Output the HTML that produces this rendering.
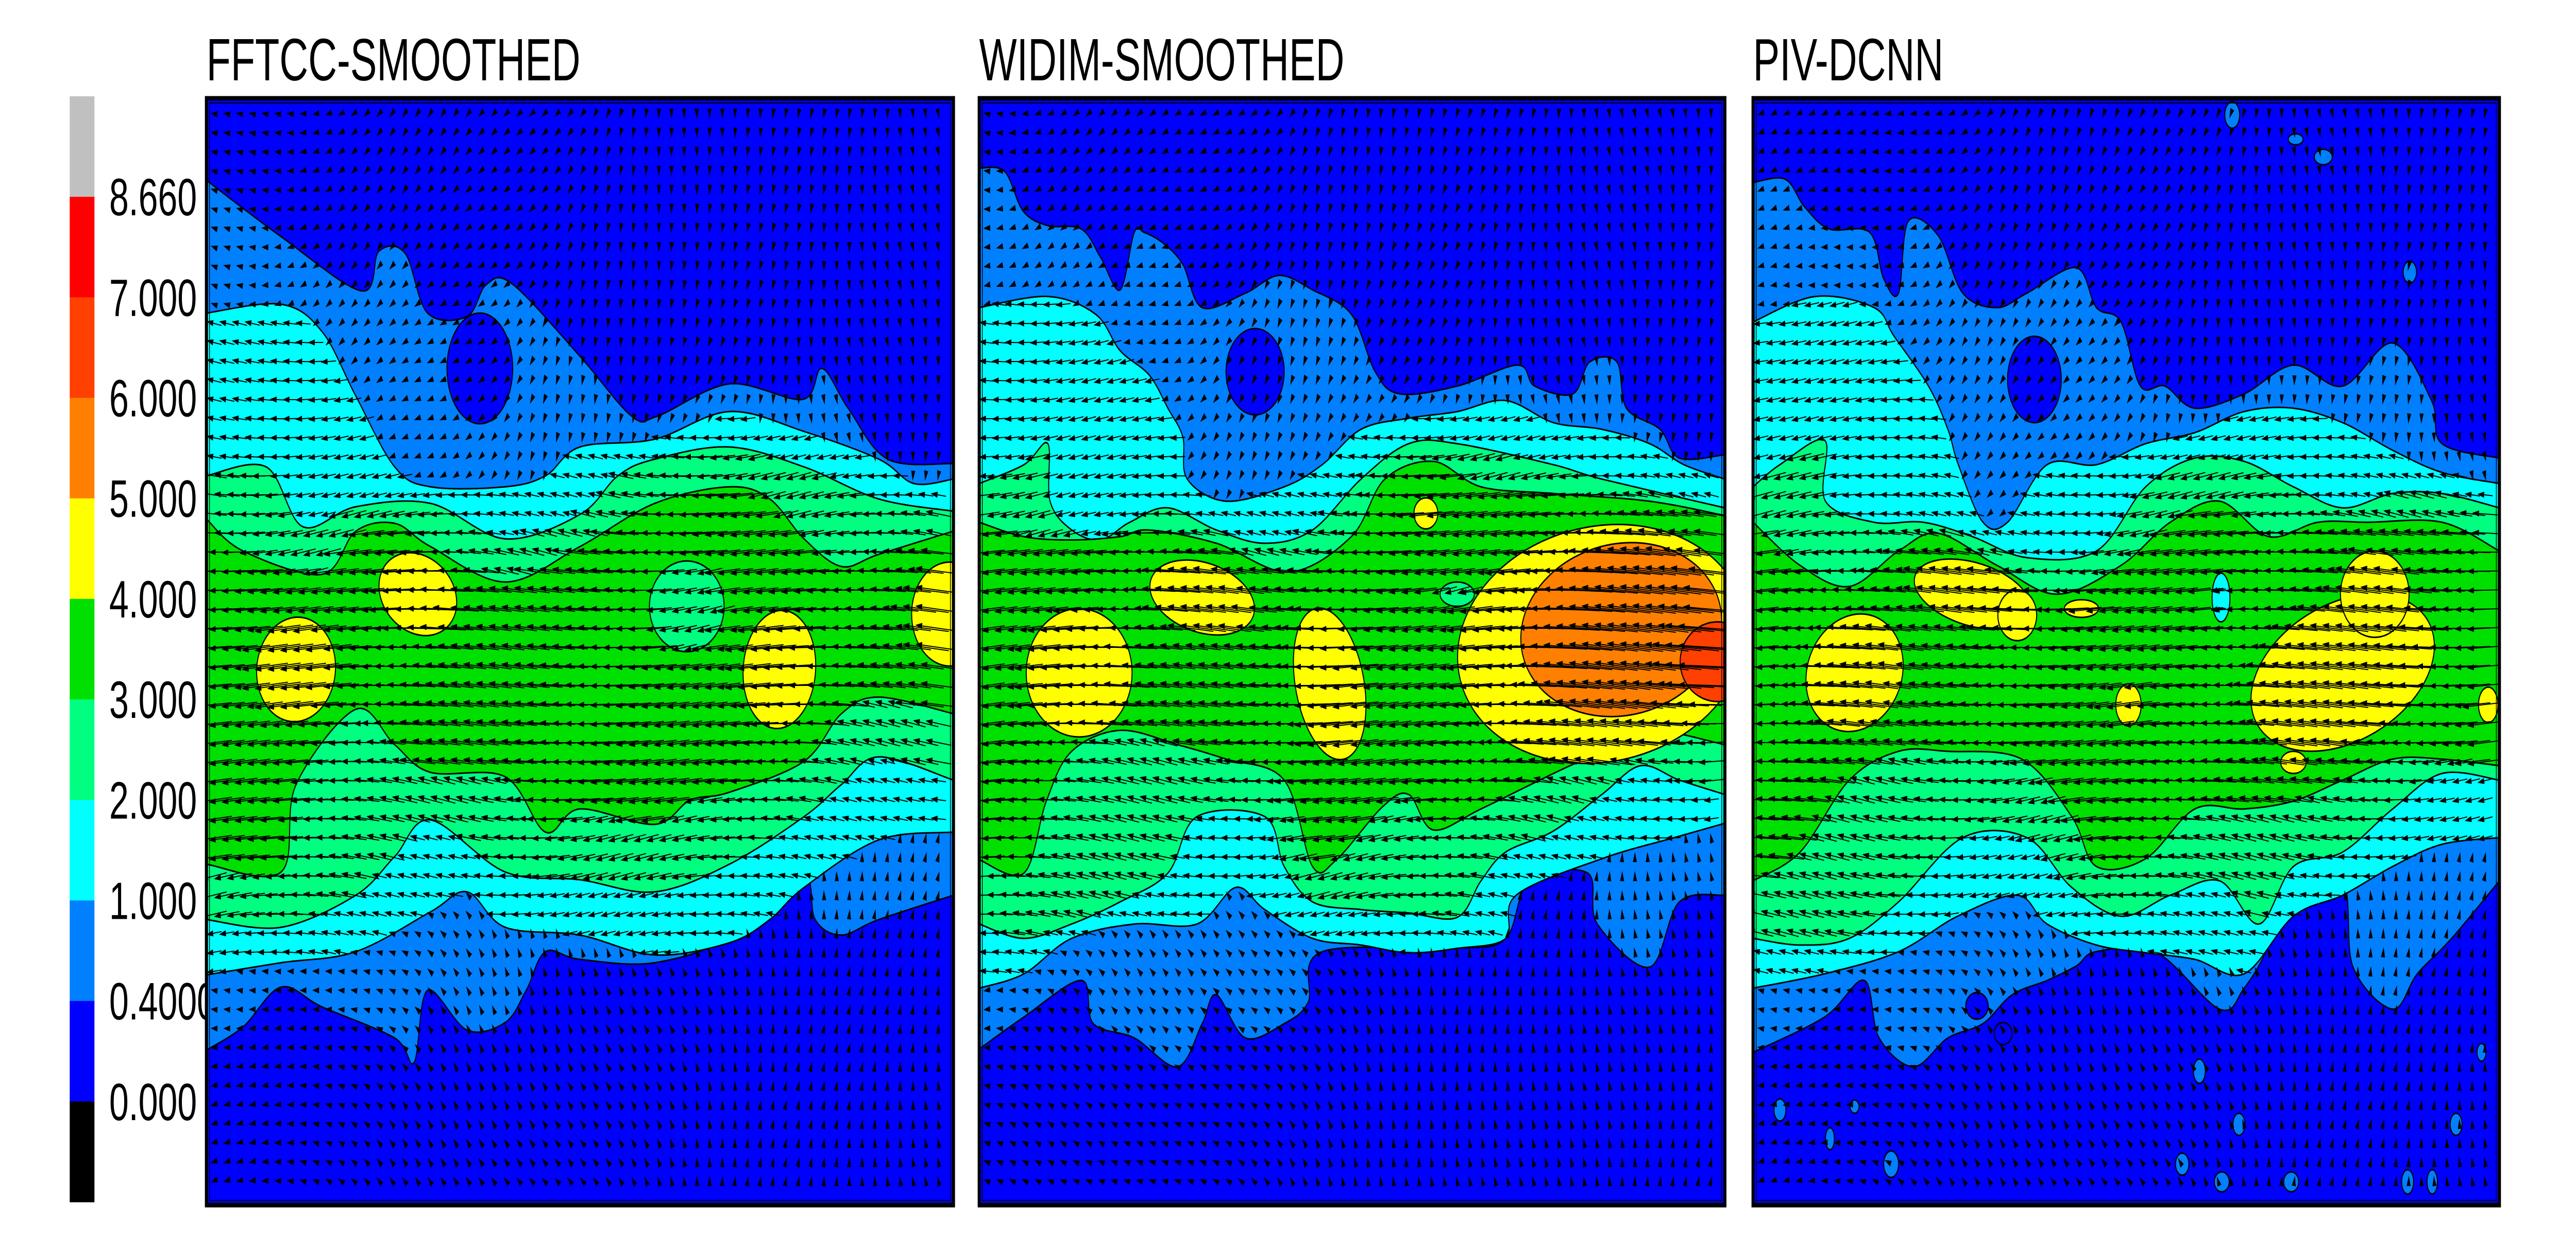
<!DOCTYPE html>
<html><head><meta charset="utf-8"><style>
html,body{margin:0;padding:0;background:#fff;width:100%;height:100%;overflow:hidden}
svg{display:block;overflow:hidden;width:100vw;height:100vh}
text{font-family:"Liberation Sans",Arial,sans-serif}
</style></head><body>
<svg id="root" viewBox="0 0 7500 2400" preserveAspectRatio="none" xmlns="http://www.w3.org/2000/svg">
<g id="cbar"></g>
<g id="panels"></g>
</svg>
<script>
const levelLabels=['8.660','7.000','6.000','5.000','4.000','3.000','2.000','1.000','0.4000','0.000'];
const barColors=['#c0c0c0','#ff0000','#ff4000','#ff8000','#ffff00','#00e000','#00ff80','#00ffff','#0080ff','#0000ff','#000000'];
const bandColors=['#0000ff','#0080ff','#00ffff','#00ff80','#00e000','#ffff00','#ff8000','#ff4000','#ff0000'];
const bandSpeed=[0.2,0.7,1.5,2.5,3.5,4.5,5.5,6.5];
const titles=['FFTCC-SMOOTHED','WIDIM-SMOOTHED','PIV-DCNN'];

// Panel 1 boundaries [fx,fy]
const p1U1=[[0,.074],[.10,.125],[.208,.174],[.231,.138],[.266,.140],[.296,.194],[.349,.197],[.375,.168],[.410,.168],[.500,.233],[.569,.287],[.604,.287],[.700,.258],[.798,.272],[.824,.244],[.859,.280],[.912,.326],[1,.330]];
const p1U2=[[0,.194],[.100,.186],[.155,.211],[.200,.269],[.252,.333],[.300,.351],[.400,.351],[.454,.341],[.500,.315],[.600,.308],[.700,.283],[.800,.301],[.900,.326],[.947,.348],[1,.344]];
const p1U3=[[0,.341],[.080,.333],[.129,.387],[.200,.369],[.300,.366],[.400,.398],[.500,.376],[.551,.341],[.600,.326],[.700,.315],[.800,.333],[.900,.362],[1,.373]];
const p1U4=[[0,.380],[.049,.409],[.155,.430],[.200,.391],[.252,.384],[.300,.405],[.400,.437],[.500,.405],[.600,.366],[.700,.351],[.754,.362],[.800,.398],[.850,.423],[.900,.412],[1,.391]];
const p1L4=[[0,.692],[.100,.699],[.120,.620],[.200,.552],[.252,.584],[.300,.609],[.400,.613],[.454,.663],[.500,.642],[.600,.656],[.648,.634],[.700,.627],[.800,.599],[.850,.556],[.900,.541],[1,.556]];
const p1L3=[[0,.742],[.100,.749],[.200,.720],[.252,.685],[.300,.652],[.400,.699],[.500,.706],[.600,.717],[.700,.692],[.800,.649],[.850,.620],[.900,.595],[1,.616]];
const p1L2=[[0,.792],[.100,.781],[.200,.771],[.300,.735],[.349,.717],[.400,.749],[.500,.756],[.600,.774],[.700,.763],[.754,.742],[.800,.713],[.900,.670],[1,.663]];
const p1L1=[[0,.860],[.049,.839],[.100,.803],[.155,.821],[.252,.849],[.278,.871],[.296,.806],[.349,.842],[.400,.835],[.428,.806],[.454,.771],[.500,.778],[.600,.781],[.700,.756],[.727,.699],[.800,.699],[.815,.742],[.850,.756],[.900,.742],[1,.720]];
// blobs: [cx,cy,rx,ry,rotDeg,band]
const p1Blobs=[[.366,.244,.044,.05,0,0],[.643,.459,.050,.041,0,3],[.283,.448,.053,.036,15,5],[.120,.516,.053,.047,-10,5],[.767,.516,.048,.054,20,5],[.995,.466,.051,.047,0,5]];

// Panel 2
const p2U1=[[0,.063],[.034,.066],[.059,.102],[.092,.115],[.137,.118],[.163,.144],[.189,.173],[.208,.121],[.221,.121],[.247,.131],[.273,.150],[.299,.189],[.357,.176],[.402,.160],[.447,.173],[.499,.195],[.531,.247],[.564,.267],[.641,.260],[.722,.241],[.745,.260],[.796,.267],[.819,.238],[.855,.238],[.868,.280],[.913,.299],[.939,.325],[1,.322]];
const p2U2=[[0,.189],[.092,.179],[.156,.195],[.189,.228],[.228,.250],[.253,.280],[.273,.306],[.279,.344],[.331,.364],[.409,.351],[.460,.331],[.512,.299],[.576,.289],[.641,.283],[.706,.273],[.770,.293],[.835,.299],[.899,.312],[.945,.331],[1,.344]];
const p2U3=[[0,.348],[.060,.331],[.092,.312],[.095,.364],[.124,.390],[.163,.399],[.202,.383],[.253,.370],[.318,.390],[.383,.402],[.447,.390],[.512,.344],[.576,.312],[.641,.312],[.770,.331],[.835,.344],[1,.370]];
const p2U4=[[0,.383],[.060,.396],[.124,.399],[.189,.396],[.228,.390],[.318,.402],[.415,.428],[.499,.396],[.544,.344],[.609,.328],[.673,.351],[.770,.357],[.899,.364],[1,.377]];
const p2L4=[[0,.688],[.06,.700],[.09,.635],[.124,.590],[.189,.571],[.266,.584],[.331,.597],[.409,.616],[.447,.694],[.479,.688],[.541,.640],[.576,.629],[.609,.661],[.673,.642],[.770,.610],[.835,.590],[.899,.571],[1,.584]];
const p2L3=[[0,.746],[.060,.759],[.124,.746],[.189,.726],[.253,.700],[.292,.649],[.383,.649],[.409,.694],[.447,.726],[.512,.733],[.576,.736],[.641,.740],[.673,.707],[.706,.681],[.770,.662],[.835,.629],[.887,.603],[.939,.616],[1,.629]];
const p2L2=[[0,.804],[.060,.791],[.124,.759],[.208,.746],[.292,.746],[.344,.713],[.383,.733],[.447,.759],[.512,.765],[.576,.772],[.641,.768],[.706,.759],[.720,.720],[.835,.687],[.932,.668],[1,.655]];
const p2L1=[[0,.859],[.060,.830],[.137,.797],[.153,.836],[.208,.849],[.266,.875],[.299,.836],[.318,.810],[.357,.849],[.409,.836],[.441,.817],[.460,.771],[.641,.768],[.706,.759],[.738,.707],[.816,.700],[.829,.746],[.899,.785],[.939,.726],[1,.720]];
const p2Blobs=[[.370,.247,.039,.039,0,0],[.641,.448,.023,.011,0,3],[.134,.519,.071,.058,0,5],[.299,.451,.071,.032,10,5],[.470,.529,.045,.071,-20,5],[.599,.375,.016,.014,0,5],[.835,.493,.194,.107,-5,5],[.861,.480,.135,.078,-5,6],[.99,.509,.05,.036,0,7]];

// Panel 3
const p3U1=[[0,.076],[.043,.073],[.069,.098],[.102,.118],[.156,.121],[.175,.163],[.195,.176],[.208,.111],[.248,.124],[.281,.176],[.327,.189],[.367,.176],[.433,.153],[.460,.189],[.493,.202],[.519,.260],[.552,.260],[.592,.280],[.658,.267],[.724,.241],[.790,.260],[.857,.221],[.909,.273],[.923,.312],[1,.325]];
const p3U2=[[0,.202],[.083,.179],[.162,.189],[.189,.215],[.235,.260],[.261,.299],[.275,.331],[.308,.383],[.341,.383],[.394,.331],[.460,.331],[.526,.312],[.592,.302],[.658,.283],[.724,.280],[.790,.293],[.857,.318],[.923,.338],[1,.348]];
const p3U3=[[0,.351],[.036,.331],[.096,.309],[.097,.364],[.162,.383],[.228,.383],[.294,.396],[.367,.415],[.460,.409],[.526,.351],[.592,.325],[.658,.328],[.724,.351],[.790,.370],[.857,.357],[.923,.357],[1,.370]];
const p3U4=[[0,.383],[.063,.422],[.129,.441],[.195,.409],[.248,.393],[.327,.422],[.407,.448],[.493,.422],[.559,.383],[.625,.364],[.691,.396],[.757,.383],[.823,.383],[.923,.383],[1,.409]];
const p3L4=[[0,.707],[.063,.681],[.129,.616],[.195,.590],[.261,.590],[.360,.597],[.427,.649],[.460,.694],[.526,.687],[.592,.642],[.658,.642],[.724,.635],[.790,.616],[.857,.597],[.923,.597],[1,.603]];
const p3L3=[[0,.759],[.063,.765],[.129,.759],[.195,.726],[.281,.668],[.367,.668],[.427,.713],[.493,.739],[.559,.720],[.625,.707],[.678,.746],[.724,.694],[.790,.681],[.857,.642],[.923,.610],[1,.616]];
const p3L2=[[0,.804],[.096,.791],[.195,.771],[.274,.739],[.354,.720],[.394,.746],[.460,.765],[.526,.772],[.592,.778],[.658,.791],[.724,.739],[.790,.720],[.857,.694],[.923,.674],[1,.668]];
const p3L1=[[0,.862],[.096,.830],[.149,.797],[.169,.849],[.215,.875],[.261,.849],[.308,.836],[.347,.810],[.394,.797],[.433,.784],[.460,.771],[.539,.771],[.625,.823],[.658,.804],[.691,.765],[.724,.697],[.790,.707],[.804,.785],[.857,.823],[.890,.791],[.936,.759],[1,.707]];
const p3Blobs=[[.377,.254,.036,.039,0,0],[.627,.451,.012,.022,0,2],[.136,.519,.066,.052,-15,5],[.294,.448,.079,.029,10,5],[.354,.467,.026,.023,0,5],[.440,.461,.023,.008,0,5],[.503,.548,.017,.019,0,5],[.790,.519,.126,.065,-15,5],[.833,.448,.046,.039,0,5],[.985,.548,.013,.016,0,5],[.724,.600,.017,.010,0,5],
 [.598,.879,.008,.011,0,1],[.651,.927,.008,.010,0,1],[.575,.963,.009,.010,0,1],[.628,.979,.010,.009,0,1],[.721,.979,.010,.009,0,1],[.877,.979,.008,.011,0,1],[.910,.979,.007,.011,0,1],[.185,.963,.010,.012,0,1],[.103,.940,.006,.010,0,1],[.036,.914,.008,.010,0,1],[.136,.911,.006,.006,0,1],[.942,.927,.008,.010,0,1],[.976,.862,.006,.008,0,1],[.764,.053,.012,.007,0,1],[.727,.037,.010,.005,0,1],[.642,.015,.010,.012,0,1],[.880,.157,.009,.010,0,1],[.300,.820,.015,.012,0,0],[.335,.845,.012,.010,0,0]];

const panelLeft=[601,2851,5104];
const panelWidth=[2175,2171,2173];
const panelTop=191, panelHeight=2149;
const panelData=[
 {U:[p1U1,p1U2,p1U3,p1U4],L:[p1L1,p1L2,p1L3,p1L4],B:p1Blobs},
 {U:[p2U1,p2U2,p2U3,p2U4],L:[p2L1,p2L2,p2L3,p2L4],B:p2Blobs},
 {U:[p3U1,p3U2,p3U3,p3U4],L:[p3L1,p3L2,p3L3,p3L4],B:p3Blobs}];

const NS='http://www.w3.org/2000/svg';
function mk(tag,attrs,parent){const e=document.createElementNS(NS,tag);for(const k in attrs)e.setAttribute(k,attrs[k]);parent.appendChild(e);return e;}

const cb=document.getElementById('cbar');
const cbTop=187, cbBot=2334, cbX=203, cbW=72, seg=(cbBot-cbTop)/barColors.length;
barColors.forEach((c,i)=>{
  const r=mk('rect',{x:cbX,y:cbTop+i*seg,width:cbW,height:seg+0.5,fill:c},cb);
  
  
});
levelLabels.forEach((t,i)=>{
  const tx=mk('text',{x:318,y:cbTop+(i+1)*seg+36,'font-size':102,fill:'#000'},cb);
  tx.textContent=t;
  
  
});

function crPath(pts,start){
  let d=start?('M'+pts[0][0].toFixed(1)+','+pts[0][1].toFixed(1)):('L'+pts[0][0].toFixed(1)+','+pts[0][1].toFixed(1));
  for(let i=0;i<pts.length-1;i++){
    const p0=pts[Math.max(0,i-1)],p1=pts[i],p2=pts[i+1],p3=pts[Math.min(pts.length-1,i+2)];
    const c1=[p1[0]+(p2[0]-p0[0])/6,p1[1]+(p2[1]-p0[1])/6];
    const c2=[p2[0]-(p3[0]-p1[0])/6,p2[1]-(p3[1]-p1[1])/6];
    d+='C'+c1[0].toFixed(1)+','+c1[1].toFixed(1)+' '+c2[0].toFixed(1)+','+c2[1].toFixed(1)+' '+p2[0].toFixed(1)+','+p2[1].toFixed(1);
  }
  return d;
}
function interp(arr,fx){
  if(fx<=arr[0][0])return arr[0][1];
  for(let i=0;i<arr.length-1;i++){if(fx<=arr[i+1][0]){const t=(fx-arr[i][0])/Math.max(1e-6,arr[i+1][0]-arr[i][0]);return arr[i][1]+t*(arr[i+1][1]-arr[i][1]);}}
  return arr[arr.length-1][1];
}

const pg=document.getElementById('panels');
panelData.forEach((pd,pi)=>{
  const W=panelWidth[pi],H=panelHeight,X0=panelLeft[pi],Y0=panelTop;
  const xS=f=>f*W, yS=f=>f*H;
  const title=mk('text',{x:X0,y:156,'font-size':116,fill:'#000'},pg);
  title.textContent=titles[pi];
  
  
  const defs=mk('defs',{},pg);
  const cp=mk('clipPath',{id:'clip'+pi},defs);
  mk('rect',{x:0,y:0,width:W,height:H},cp);
  const g=mk('g',{transform:'translate('+X0+','+Y0+')'},pg);
  
  
  const inner=mk('g',{'clip-path':'url(#clip'+pi+')'},g);
  const bg=mk('rect',{x:0,y:0,width:W,height:H,fill:bandColors[0]},inner);
  
  
  for(let k=0;k<4;k++){
    const up=pd.U[k].map(p=>[xS(p[0]),yS(p[1])]);
    const lo=pd.L[k].map(p=>[xS(p[0]),yS(p[1])]).reverse();
    const d=crPath(up,true)+crPath(lo,false)+'Z';
    const path=mk('path',{d:d,fill:bandColors[k+1],stroke:'#000','stroke-width':3,'stroke-linejoin':'round'},inner);
    
    
  }
  const blobs=pd.B.slice().sort((a,b)=>a[5]-b[5]);
  blobs.forEach(b=>{
    const e=mk('ellipse',{cx:xS(b[0]),cy:yS(b[1]),rx:xS(b[2]),ry:yS(b[3]),transform:'rotate('+b[4]+' '+xS(b[0])+' '+yS(b[1])+')',fill:bandColors[b[5]],stroke:'#000','stroke-width':3},inner);
    
    
  });
  function bandAt(fx,fy){
    let b=0;
    for(let k=0;k<4;k++){if(fy>interp(pd.U[k],fx)&&fy<interp(pd.L[k],fx))b=k+1;}
    blobs.forEach(bl=>{
      const a=bl[4]*Math.PI/180;const dx=(fx-bl[0])*W,dy=(fy-bl[1])*H;
      const u=dx*Math.cos(a)+dy*Math.sin(a),v=-dx*Math.sin(a)+dy*Math.cos(a);
      const rx=bl[2]*W,ry=bl[3]*H;
      if((u*u)/(rx*rx)+(v*v)/(ry*ry)<1)b=bl[5];
    });
    return b;
  }
  let lines='',heads='';
  const sp=37;
  for(let py=30;py<H-10;py+=sp){
    for(let px=22;px<W-10;px+=sp){
      const fx=px/W,fy=py/H;
      const b=bandAt(fx,fy);
      const s=bandSpeed[b];
      let ang;
      if(b>=2){ang=Math.PI+0.12*Math.sin(fx*11+fy*7+pi)*(b<=3?1.5:0.8);}
      else if(fy<0.5){ang=Math.PI-(Math.PI/2)*Math.min(1,fx*1.3)+0.3*Math.sin(fx*17+fy*9+pi*2);}
      else{ang=Math.PI+(Math.PI/2)*Math.min(1,fx*1.3)+0.3*Math.sin(fx*13+fy*11+pi*3);}
      const len=b<=1?20:s*30;
      const cx=Math.cos(ang),cy=Math.sin(ang);
      const tx=px-cx*len/2,ty=py-cy*len/2,hx=px+cx*len/2,hy=py+cy*len/2;
      const hl=20,hw=6;
      const bx=hx-cx*hl,by=hy-cy*hl;
      if(len>hl+2)lines+='M'+tx.toFixed(1)+','+ty.toFixed(1)+'L'+bx.toFixed(1)+','+by.toFixed(1);
      heads+='M'+hx.toFixed(1)+','+hy.toFixed(1)+'L'+(bx-cy*hw).toFixed(1)+','+(by+cx*hw).toFixed(1)+'L'+(bx+cy*hw).toFixed(1)+','+(by-cx*hw).toFixed(1)+'Z';
    }
  }
  const lp=mk('path',{d:lines,stroke:'#000','stroke-width':2,fill:'none'},inner);
  
  
  const hp=mk('path',{d:heads,fill:'#000'},inner);
  
  
  const frame=mk('rect',{x:0,y:0,width:W,height:H,fill:'none',stroke:'#000','stroke-width':9},g);
  
  
  mk('rect',{x:9,y:9,width:W-18,height:H-18,fill:'none',stroke:'#000','stroke-width':2},g);
});
</script>
</body></html>
